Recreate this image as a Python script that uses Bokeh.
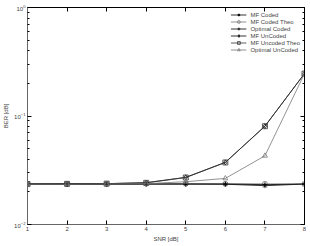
from bokeh.plotting import figure
from bokeh.models import LinearAxis, LogAxis, Legend, LegendItem, FixedTicker, LogTickFormatter
from bokeh.embed import file_html
from bokeh.resources import INLINE

snr = [1, 2, 3, 4, 5, 6, 7, 8]
mf_coded = [0.0236, 0.0236, 0.0236, 0.0236, 0.0236, 0.0235, 0.0228, 0.0236]
mf_coded_theo = [0.0237, 0.0237, 0.0237, 0.0238, 0.0238, 0.0237, 0.0237, 0.0236]
opt_coded = [0.0235, 0.0235, 0.0235, 0.0236, 0.0236, 0.0236, 0.0233, 0.0236]
mf_uncoded = [0.0236, 0.0237, 0.0238, 0.0243, 0.0272, 0.0374, 0.0806, 0.246]
mf_uncoded_theo = [0.0236, 0.0237, 0.0238, 0.0242, 0.0271, 0.0373, 0.0805, 0.246]
opt_uncoded = [0.0235, 0.0235, 0.0236, 0.0238, 0.0248, 0.0266, 0.0430, 0.246]
y_major = [0.01, 0.1, 1]
y_minor = [m * d for d in (0.01, 0.1) for m in range(2, 10)]

series = [
    ("MF Coded", mf_coded, "asterisk", "#000000"),
    ("MF Coded Theo", mf_coded_theo, "circle", "#777777"),
    ("Optimal Coded", opt_coded, "cross", "#000000"),
    ("MF UnCoded", mf_uncoded, "diamond", "#000000"),
    ("MF Uncoded Theo", mf_uncoded_theo, "square", "#333333"),
    ("Optimal UnCoded", opt_uncoded, "triangle", "#777777"),
]

p = figure(width=306, height=244, y_axis_type="log", x_range=(1, 8), y_range=(0.01, 1),
           output_backend="svg", toolbar_location=None,
           min_border_left=25, min_border_right=2, min_border_top=7, min_border_bottom=0)
p.xgrid.visible = False
p.ygrid.visible = False
p.outline_line_color = "black"

items = []
for name, vals, mk, col in series:
    r1 = p.line(snr, vals, line_color=col, line_width=0.8)
    r2 = p.scatter(snr, vals, marker=mk, size=5, line_color=col, fill_color=None, line_width=0.8)
    items.append(LegendItem(label=name, renderers=[r1, r2]))

fs = "6px"
xa = p.xaxis[0]
xa.ticker = FixedTicker(ticks=snr)
xa.axis_label = "SNR [dB]"
ya = p.yaxis[0]
ya.axis_label = "BER [dB]"
ya.ticker = FixedTicker(ticks=y_major, minor_ticks=y_minor)
ya.formatter = LogTickFormatter()
for ax in (xa, ya):
    ax.major_label_text_font_size = fs
    ax.axis_label_text_font_size = fs
    ax.axis_label_text_font_style = "normal"
    ax.major_label_text_font = "Liberation Sans"
    ax.axis_label_text_font = "Liberation Sans"
    ax.major_tick_in = 4
    ax.major_tick_out = 0
    ax.minor_tick_in = 2
    ax.minor_tick_out = 0
    ax.major_label_standoff = 2
    ax.axis_label_standoff = 2
    ax.axis_line_color = "#666666"
xa.minor_tick_line_color = None

top = LinearAxis(ticker=FixedTicker(ticks=snr), major_label_text_font_size="0px",
                 major_tick_in=4, major_tick_out=0, minor_tick_line_color=None,
                 major_label_text_alpha=0, major_label_standoff=0)
right = LogAxis(ticker=FixedTicker(ticks=y_major, minor_ticks=y_minor),
                major_label_text_font_size="0px", major_label_text_alpha=0,
                major_tick_in=4, major_tick_out=0, minor_tick_in=2, minor_tick_out=0,
                major_label_standoff=0)
p.add_layout(top, "above")
p.add_layout(right, "right")

leg = Legend(items=items, location="top_right", label_text_font_size=fs,
             label_text_font="Liberation Sans", glyph_height=7, glyph_width=16,
             label_height=7, spacing=0, padding=3, margin=4,
             border_line_color=None, background_fill_alpha=0, label_standoff=4)
p.add_layout(leg)

open("out.html", "w").write(file_html(p, INLINE))
